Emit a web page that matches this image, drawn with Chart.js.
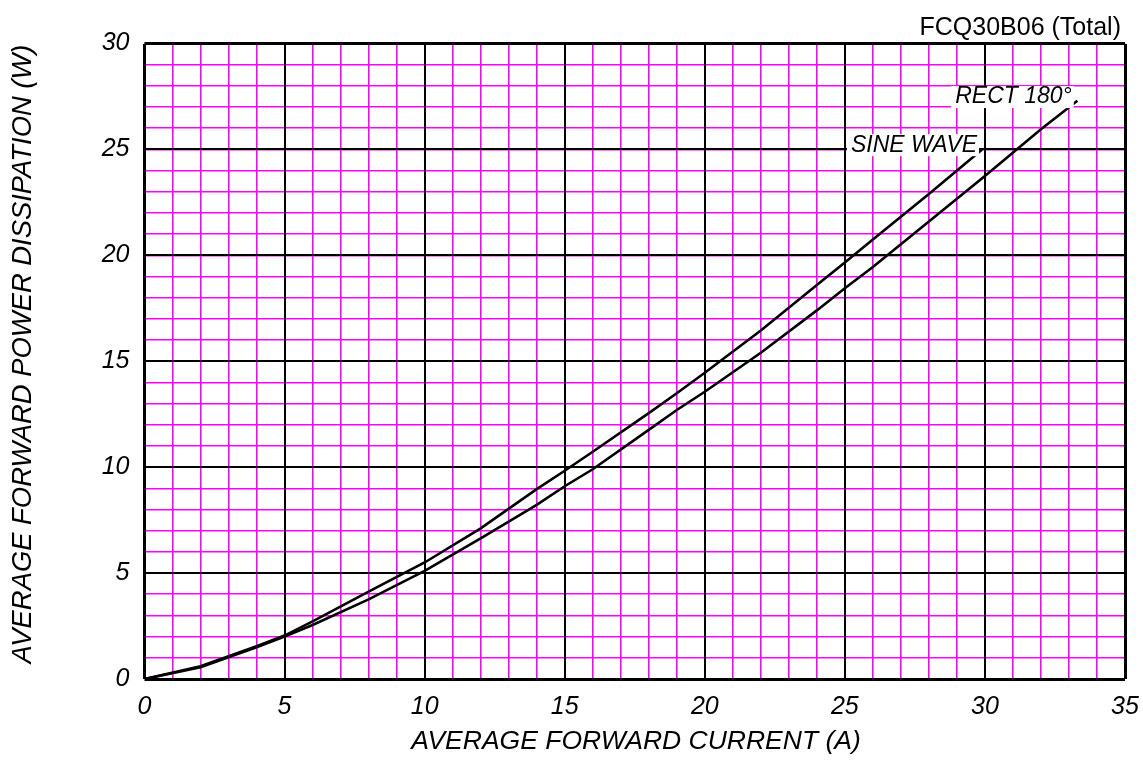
<!DOCTYPE html>
<html><head><meta charset="utf-8">
<script src="https://cdn.jsdelivr.net/npm/chart.js@4"></script>
<style>html,body{margin:0;padding:0;background:#fff;} #wrap{width:1143px;height:765px;position:relative;}</style>
</head><body><div id="wrap"><canvas id="c"></canvas></div>
<script>
// ---- data ----
const sineX = [0, 2, 4, 5, 6, 8, 10, 12, 14, 15, 16, 18, 19, 20, 22, 24, 25, 26, 28, 29.9];
const sineY = [0, 0.6, 1.55, 2.05, 2.72, 4.12, 5.5, 7.11, 8.96, 9.83, 10.73, 12.55, 13.49, 14.46, 16.45, 18.6, 19.66, 20.75, 22.9, 25.0];
const rectX = [0, 2, 4, 5, 6, 8, 10, 12, 14, 15, 16, 18, 19, 20, 22, 24, 25, 26, 28, 30, 32, 33.3];
const rectY = [0, 0.55, 1.5, 2.0, 2.55, 3.76, 5.1, 6.64, 8.22, 9.1, 9.9, 11.76, 12.7, 13.56, 15.4, 17.4, 18.45, 19.45, 21.6, 23.75, 25.95, 27.3];
const seriesNames = ['SINE WAVE', 'RECT 180°'];
const xRange = [0, 35];
const yRange = [0, 30];
const chartTitle = 'FCQ30B06 (Total)';
const xTitle = 'AVERAGE FORWARD CURRENT (A)';
const yTitle = 'AVERAGE FORWARD POWER DISSIPATION (W)';

const FONT = '"Liberation Sans", Arial, sans-serif';
const toPts = (xs, ys) => xs.map((x, i) => ({x: x, y: ys[i]}));

const minorGrid = {color: '#ff00ff', lineWidth: 1.6, drawTicks: false, z: -2};
const majorGrid = (maxV) => ({
  color: '#000',
  lineWidth: (ctx) => (ctx.tick && (ctx.tick.value === 0 || ctx.tick.value === maxV)) ? 3 : 2,
  drawTicks: false, z: -1
});

const textPlugin = {
  id: 'texts',
  afterDatasetsDraw(chart) {
    const ctx = chart.ctx, xs = chart.scales.x, ys = chart.scales.y;
    ctx.save();
    ctx.font = 'italic 23px ' + FONT;
    ctx.textBaseline = 'middle';
    ctx.textAlign = 'right';
    const labs = [
      {t: seriesNames[0], x: 29.72, y: 25.2},
      {t: seriesNames[1], x: 33.1, y: 27.47}
    ];
    labs.forEach(l => {
      const px = xs.getPixelForValue(l.x), py = ys.getPixelForValue(l.y);
      const w = ctx.measureText(l.t).width;
      ctx.fillStyle = '#fff';
      ctx.fillRect(px - w - 4, py - 11, w + 6, 22);
      ctx.fillStyle = '#000';
      ctx.fillText(l.t, px, py);
    });
    ctx.restore();
  },
  afterDraw(chart) {
    const ctx = chart.ctx;
    ctx.save();
    ctx.fillStyle = '#000';
    ctx.textBaseline = 'middle';
    ctx.font = '25px ' + FONT;
    ctx.textAlign = 'right';
    ctx.fillText(chartTitle, 1121, 28);
    ctx.font = 'italic 26.5px ' + FONT;
    ctx.textAlign = 'center';
    ctx.fillText(xTitle, 636, 742);
    ctx.font = 'italic 27.4px ' + FONT;
    ctx.translate(23, 354);
    ctx.rotate(-Math.PI / 2);
    ctx.fillText(yTitle, 0, 0);
    ctx.restore();
  }
};

new Chart(document.getElementById('c'), {
  type: 'scatter',
  data: {
    datasets: [
      {label: seriesNames[0], data: toPts(sineX, sineY), showLine: true, borderColor: '#000', borderWidth: 2.6, pointRadius: 0, tension: 0, fill: false},
      {label: seriesNames[1], data: toPts(rectX, rectY), showLine: true, borderColor: '#000', borderWidth: 2.6, pointRadius: 0, tension: 0, fill: false}
    ]
  },
  options: {
    responsive: true,
    maintainAspectRatio: false,
    animation: false,
    layout: {padding: {top: 43.5, right: 18, left: 0, bottom: 0}},
    plugins: {legend: {display: false}, tooltip: {enabled: false}, title: {display: false}},
    scales: {
      x: {
        type: 'linear', position: 'bottom', min: xRange[0], max: xRange[1],
        grid: minorGrid, border: {display: false},
        ticks: {stepSize: 1, autoSkip: false, maxRotation: 0, minRotation: 0, padding: 13,
          color: '#000', font: {family: FONT, size: 25, style: 'italic'},
          callback: (v) => (v % 5 === 0 ? String(v) : '')},
        afterFit: (s) => { s.height = 765 - 679; s.paddingLeft = 0; s.paddingRight = 0; }
      },
      y: {
        type: 'linear', position: 'left', min: yRange[0], max: yRange[1],
        grid: minorGrid, border: {display: false},
        ticks: {stepSize: 1, autoSkip: false, padding: 15,
          color: '#000', font: {family: FONT, size: 25, style: 'italic'},
          callback: (v) => (v % 5 === 0 ? String(v) : '')},
        afterFit: (s) => { s.width = 144.5; s.paddingTop = 0; s.paddingBottom = 0; }
      },
      xMajor: {
        type: 'linear', position: 'top', min: xRange[0], max: xRange[1],
        grid: majorGrid(xRange[1]), border: {display: false},
        ticks: {stepSize: 5, display: false},
        afterFit: (s) => { s.height = 0; s.paddingLeft = 0; s.paddingRight = 0; }
      },
      yMajor: {
        type: 'linear', position: 'right', min: yRange[0], max: yRange[1],
        grid: majorGrid(yRange[1]), border: {display: false},
        ticks: {stepSize: 5, display: false},
        afterFit: (s) => { s.width = 0; s.paddingTop = 0; s.paddingBottom = 0; }
      }
    }
  },
  plugins: [textPlugin]
});
</script>
</body></html>
